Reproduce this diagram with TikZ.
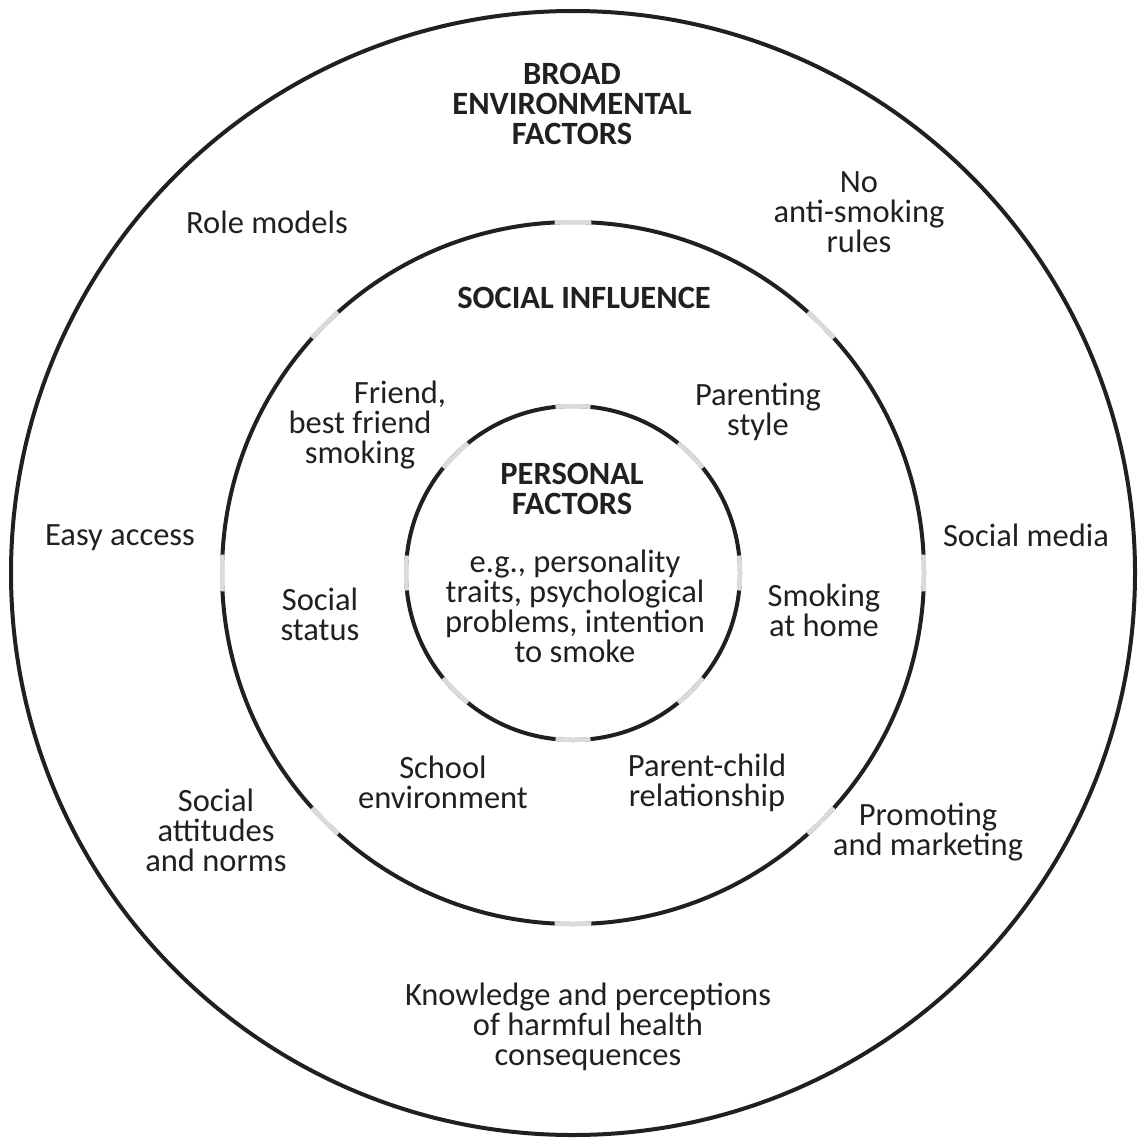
\documentclass[tikz,border=0pt]{standalone}
\usepackage{fontspec}
\setmainfont{Carlito}
\definecolor{ink}{HTML}{231F20}
\definecolor{gapgray}{HTML}{DADBDC}
\begin{document}
\begin{tikzpicture}[x=1pt,y=-1pt,
  ring/.style={draw=ink,line width=4pt},
  gapseg/.style={draw=gapgray,line width=4.4pt,line cap=butt},
  lbl/.style={text=ink,align=center,inner sep=0pt,font=\fontsize{32.5}{30}\selectfont},
  head/.style={text=ink,align=center,inner sep=0pt,font=\fontsize{32.5}{30}\selectfont\bfseries}]
\useasboundingbox (0,0) rectangle (1142,1140);
\coordinate (C) at (573,573);
% rings
\draw[ring] (C) circle[radius=562pt];
\draw[ring] (C) circle[radius=351pt];
\draw[ring] (C) circle[radius=167pt];
% light grey gaps
\foreach \a in {0,45,...,315} {
  \draw[gapseg] (C) ++({\a-3}:351pt) arc[start angle={\a-3}, end angle={\a+3}, radius=351pt];
  \draw[gapseg] (C) ++({\a-6}:167pt) arc[start angle={\a-6}, end angle={\a+6}, radius=167pt];
}
% labels
\node[head] (broad) at (572,104) {BROAD\\ENVIRONMENTAL\\FACTORS};
\node[lbl] (role) at (267,222) {Role models};
\node[lbl] (norules) at (859,212) {No\\anti-smoking\\rules};
\node[head] (social) at (584,298) {SOCIAL INFLUENCE};
\node[lbl] (friend) at (360,425) {\hspace*{80pt}Friend,\\best friend\\smoking};
\node[lbl] (parenting) at (758,412) {Parenting\\style};
\node[head] (personal) at (572,489) {PERSONAL\\FACTORS};
\node[lbl] (eg) at (575,606) {e.g., personality\\traits, psychological\\problems, intention\\to smoke};
\node[lbl] (status) at (320,614) {Social\\status};
\node[lbl] (home) at (824,610) {Smoking\\at home};
\node[lbl] (access) at (120,538) {Easy access};
\node[lbl] (media) at (1026,535) {Social media};
\node[lbl] (school) at (443,782) {School\\environment};
\node[lbl] (parentchild) at (707,783) {Parent-child\\relationship};
\node[lbl] (attitudes) at (216,830) {Social\\attitudes\\and norms};
\node[lbl] (promoting) at (928,832) {Promoting\\and marketing};
\node[lbl] (knowledge) at (588,1027) {Knowledge and perceptions\\of harmful health\\consequences};
\end{tikzpicture}
\end{document}
